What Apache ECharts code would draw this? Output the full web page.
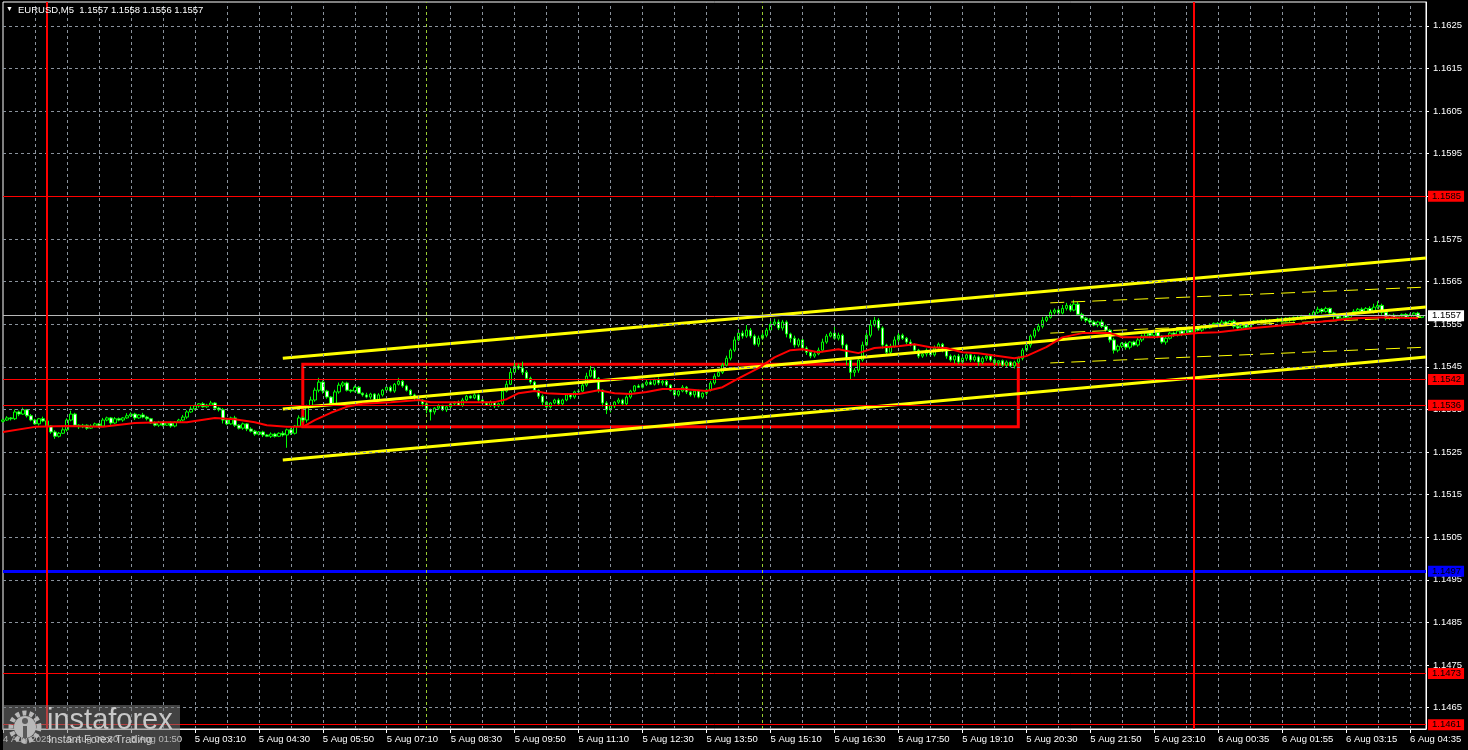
<!DOCTYPE html>
<html><head><meta charset="utf-8">
<script src="https://cdn.jsdelivr.net/npm/echarts@6/dist/echarts.min.js"></script>
<style>html,body{margin:0;padding:0;background:#000;overflow:hidden}#c{width:1468px;height:750px}</style>
</head><body><div id="c"></div>
<script>
// price = BASE + points * PT
const BASE = 1.15, PT = 0.00001;
const open0 = 322;
const closes = [
325,330,328,344,339,349,335,325,316,328,323,311,297,287,294,302,325,339,313,309,
313,306,311,316,311,325,330,318,328,325,330,335,339,330,337,332,328,318,313,320,
313,318,311,320,325,332,344,351,358,363,356,360,365,353,349,325,316,330,313,306,
316,304,299,292,297,290,287,292,287,294,290,302,294,311,330,325,356,372,395,414,
393,379,363,391,407,412,395,393,402,388,384,379,386,372,384,395,402,393,409,416,
405,395,384,377,372,363,349,344,353,358,349,356,363,367,360,372,381,377,384,372,
365,360,367,358,363,393,409,437,451,447,437,423,414,395,381,367,356,365,372,363,
372,384,379,391,393,407,428,442,423,395,365,349,358,367,372,363,379,393,405,402,
409,414,409,419,412,416,407,395,384,393,402,391,384,393,379,388,395,412,428,437,
454,470,489,513,529,522,536,522,503,517,524,536,550,555,541,555,527,517,501,513,
494,484,475,480,489,508,522,529,517,524,501,466,437,442,466,501,524,548,559,541,
501,484,498,513,524,517,508,501,489,475,480,489,478,494,503,489,475,466,475,461,
470,478,466,473,461,470,475,466,459,464,454,461,452,461,470,489,501,522,536,545,
559,566,578,583,576,587,594,583,597,573,564,559,555,548,555,545,536,513,489,498,
505,496,508,501,513,522,529,524,531,522,508,517,529,524,534,527,536,531,541,536,
545,541,548,552,548,555,550,557,545,541,548,543,552,557,555,559,555,559,557,562,
557,564,559,566,562,569,564,571,578,585,580,587,576,569,564,571,566,573,580,585,
580,587,578,590,594,578,564,571,564,569,573,566,571,576,566,570];
const wickHi = [
3,4,2,6,3,5,2,4,3,2,5,3,2,4,3,6,4,8,3,2,
3,2,4,3,2,5,3,2,4,3,2,6,4,3,2,5,3,2,4,3,
2,3,4,2,3,5,4,6,3,2,4,3,5,2,3,4,2,3,5,2,
3,2,4,3,2,3,2,4,3,2,5,3,4,2,6,4,5,8,6,10,
4,3,2,5,6,4,3,2,4,3,2,5,3,2,4,3,6,4,3,8,
4,3,2,3,4,2,5,3,2,4,3,2,3,2,4,5,3,2,4,3,
2,3,4,2,3,6,8,10,12,6,15,5,4,3,2,4,3,2,3,4,
3,2,4,3,5,6,8,10,6,3,2,4,3,2,5,3,4,3,2,4,
3,5,4,3,6,4,3,2,4,3,5,3,2,4,3,2,4,5,6,4,
5,6,4,8,10,6,12,5,4,6,8,5,10,8,6,5,4,3,6,4,
3,4,2,5,6,8,5,4,15,6,4,3,2,5,6,8,10,12,8,5,
4,3,6,8,5,4,3,6,4,3,5,4,3,6,4,3,2,4,3,5,
4,3,2,5,3,4,2,3,4,2,3,4,2,3,4,5,6,4,5,6,
8,5,6,4,5,8,6,4,10,5,4,3,5,4,3,6,4,3,5,4,
3,4,2,3,5,4,3,2,4,3,2,5,3,4,2,3,4,2,3,4,
2,3,4,2,3,5,3,2,4,3,2,3,4,2,3,2,4,3,2,3,
4,2,3,2,4,3,2,5,4,6,3,4,2,3,4,2,3,4,5,3,
4,3,5,8,10,4,3,2,4,3,2,3,4,2,3,1];
const wickLo = [
3,2,4,3,5,2,4,3,2,4,3,5,4,6,3,2,4,3,2,5,
3,4,2,3,5,2,3,4,2,3,4,2,3,5,2,3,4,2,3,4,
3,2,4,3,2,3,4,2,3,4,2,3,2,5,4,8,3,2,4,3,
4,5,3,4,3,5,2,4,3,2,4,30,4,3,2,5,6,3,4,5,
6,4,5,3,4,5,3,4,3,2,4,3,5,3,2,4,5,3,4,3,
4,3,2,5,4,6,8,20,6,4,3,5,4,3,2,4,3,2,3,4,
3,2,4,5,3,4,3,2,5,4,6,3,5,4,6,8,5,4,3,5,
4,3,5,4,3,2,4,3,5,6,8,10,6,5,4,3,5,4,3,2,
3,4,2,3,5,6,4,3,2,4,3,5,4,6,3,4,5,3,4,2,
4,3,5,4,3,6,4,5,3,6,4,5,3,4,5,6,8,10,6,5,
8,6,5,4,3,5,4,3,4,5,8,12,18,10,6,4,3,5,4,6,
8,5,4,3,6,4,5,3,6,5,4,6,5,4,3,5,6,4,8,5,
4,6,5,4,8,5,6,4,5,6,4,5,3,6,4,5,4,6,5,4,
5,4,3,5,4,3,5,4,3,4,6,5,4,3,5,4,3,6,8,5,
4,6,5,3,4,5,3,4,3,5,4,6,3,4,3,5,4,3,4,3,
4,3,2,4,3,2,4,3,5,4,3,2,4,3,2,3,4,3,2,3,
3,2,4,3,2,3,4,2,3,4,5,3,4,8,3,4,2,3,4,3,
3,4,2,3,4,6,5,4,3,4,2,3,4,3,2,2];
// moving average (candle index, points)
const maIdx = [0,8,16,25,33,40,46,53,58,63,66,71,75,78,82,86,90,97,104,107,111,123,126,129,133,136,140,144,149,153,157,161,165,170,176,180,184,189,193,197,200,204,209,214,218,224,228,232,236,240,244,253,256,261,265,270,277,280,288,293,299,304,313,321,329,338,346,354];
const maVal = [297,309,311,309,318,320,320,330,327,320,313,309,309,325,342,356,363,367,372,367,367,367,374,388,393,388,386,386,395,388,386,391,398,398,393,402,423,447,472,489,491,484,491,482,494,498,503,496,494,484,482,470,475,496,519,529,529,519,519,524,529,531,541,548,555,564,566,564];
const xTickLabels = ['4 Aug 2025','5 Aug 00:30','5 Aug 01:50','5 Aug 03:10','5 Aug 04:30','5 Aug 05:50','5 Aug 07:10','5 Aug 08:30','5 Aug 09:50','5 Aug 11:10','5 Aug 12:30','5 Aug 13:50','5 Aug 15:10','5 Aug 16:30','5 Aug 17:50','5 Aug 19:10','5 Aug 20:30','5 Aug 21:50','5 Aug 23:10','6 Aug 00:35','6 Aug 01:55','6 Aug 03:15','6 Aug 04:35'];
const yTicks = [1.1465,1.1475,1.1485,1.1495,1.1505,1.1515,1.1525,1.1535,1.1545,1.1555,1.1565,1.1575,1.1585,1.1595,1.1605,1.1615,1.1625];
const redLevels = [1.1585,1.1542,1.1536,1.1473,1.1461];
const blueLevel = 1.1497;
const currentPrice = 1.1557;
const redVLines = [11,298];
const limeVLines = [106,190];
const rectIdx = [75,254], rectPrice = [1.15456,1.15309];
const channelIdx = [70,356];
const channelUpper = [1.15470,1.15705];
const channelMid = [1.15351,1.15590];
const channelLower = [1.15231,1.15473];
const dashIdx = [262,356];
const dashUpper = [1.15600,1.15637];
const dashMid = [1.15529,1.15567];
const dashLower = [1.15459,1.15496];
const titleText = 'EURUSD,M5  1.1557 1.1558 1.1556 1.1557';

const NCAT = 357;
const cats = []; for (let i = 0; i < NCAT; i++) cats.push(String(i));
const vGrid = []; for (let i = 8; i < NCAT; i += 8) vGrid.push(i);
const px = p => +(BASE + p * PT).toFixed(5);
const candles = closes.map((c, i) => {
  const o = i ? closes[i - 1] : open0;
  const hi = Math.max(o, c) + wickHi[i], lo = Math.min(o, c) - wickLo[i];
  return [px(o), px(c), px(lo), px(hi)];
});
const maData = maIdx.map((x, k) => [x, px(maVal[k])]);
const seg = (idx, vals) => [[idx[0], vals[0]], [idx[1], vals[1]]];
const FONT = 'Liberation Sans';
const gridColor = '#8a929c';

function lvlLabel(bg, fg) {
  return {show: true, position: 'end', distance: 2, formatter: p => (+p.value).toFixed(4),
    backgroundColor: bg, color: fg, fontSize: 9.5, fontFamily: FONT, padding: [1, 3, 0, 4], lineHeight: 10};
}

const chart = echarts.init(document.getElementById('c'), null, {renderer: 'canvas'});
const yellowLine = (data, w, dash, z) => ({type: 'line', data: data, symbol: 'none', silent: true, z: z,
  lineStyle: {color: '#ffff00', width: w, type: dash ? [14, 7] : 'solid'}, animation: false});

chart.setOption({
  backgroundColor: '#000',
  animation: false,
  grid: {left: 2, right: 42, top: 2, bottom: 21, show: true, borderColor: '#ffffff', borderWidth: 1, backgroundColor: '#000'},
  xAxis: {type: 'category', data: cats, boundaryGap: false,
    axisLine: {lineStyle: {color: '#fff', width: 1}},
    axisTick: {show: true, interval: i => i % 16 === 0, length: 4, lineStyle: {color: '#fff'}},
    axisLabel: {interval: i => i % 16 === 0, formatter: (v, i) => xTickLabels[Math.round(i / 16)] || '',
      color: '#fff', fontSize: 9.5, fontFamily: FONT, align: 'left', margin: 5},
    splitLine: {show: false}
  },
  yAxis: {type: 'value', position: 'right', min: 1.146, max: 1.16306, scale: true,
    axisLine: {show: true, lineStyle: {color: '#fff'}},
    axisTick: {show: true, customValues: yTicks, length: 3, lineStyle: {color: '#fff'}},
    axisLabel: {customValues: yTicks, color: '#fff', fontSize: 9.5, fontFamily: FONT, margin: 7, formatter: v => v.toFixed(4)},
    splitLine: {show: false}
  },
  series: [
    {type: 'line', data: [], z: 1, silent: true,
      markLine: {symbol: 'none', silent: true, precision: 6, label: {show: false},
        lineStyle: {color: gridColor, type: [3, 3], width: 1},
        data: [...yTicks.map(v => ({yAxis: v})), ...vGrid.map(x => ({xAxis: x}))]}},
    {type: 'line', data: [], z: 2, silent: true,
      markLine: {symbol: 'none', silent: true, precision: 6,
        data: [
          ...redLevels.map(v => ({yAxis: v, lineStyle: {color: '#ff0000', width: 1, type: 'solid'}, label: lvlLabel('#ff0000', '#000')})),
          {yAxis: blueLevel, lineStyle: {color: '#0000ff', width: 3, type: 'solid'}, label: lvlLabel('#0000ff', '#000')},
          {yAxis: currentPrice, lineStyle: {color: '#b8b8b8', width: 1, type: 'solid'}, label: lvlLabel('#ffffff', '#000')},
          ...redVLines.map(x => ({xAxis: x, lineStyle: {color: '#ff0000', width: 2, type: 'solid'}, label: {show: false}})),
          ...limeVLines.map(x => ({xAxis: x, lineStyle: {color: '#9acd32', width: 1, type: [3, 3]}, label: {show: false}}))
        ]},
      markArea: {silent: true, itemStyle: {color: 'rgba(0,0,0,0)', borderColor: '#ff0000', borderWidth: 3},
        data: [[{xAxis: rectIdx[0], yAxis: rectPrice[0]}, {xAxis: rectIdx[1], yAxis: rectPrice[1]}]]}},
    {type: 'candlestick', data: candles, z: 3, barWidth: 3, silent: true,
      itemStyle: {color: '#000000', color0: '#ffffff', borderColor: '#00ff00', borderColor0: '#00ff00', borderWidth: 1}},
    yellowLine(seg(channelIdx, channelUpper), 3, false, 4),
    yellowLine(seg(channelIdx, channelMid), 3, false, 4),
    yellowLine(seg(channelIdx, channelLower), 3, false, 4),
    yellowLine(seg(dashIdx, dashUpper), 1, true, 4),
    yellowLine(seg(dashIdx, dashMid), 1, true, 4),
    yellowLine(seg(dashIdx, dashLower), 1, true, 4),
    {type: 'line', data: maData, symbol: 'none', silent: true, z: 5, lineStyle: {color: '#ff0000', width: 2}}
  ],
  graphic: [
    {type: 'text', left: 6, top: 6, z: 50, style: {text: '▼', fill: '#fff', font: '7px ' + FONT}},
    {type: 'text', left: 18, top: 5, z: 50, style: {text: titleText, fill: '#fff', font: '9.5px ' + FONT}},
    {type: 'rect', shape: {x: 3, y: 705, width: 177, height: 45}, z: 100, style: {fill: 'rgba(120,120,120,0.55)'}},
    {type: 'circle', shape: {cx: 25, cy: 727, r: 14}, z: 101, style: {fill: 'none', stroke: '#b8b8b8', lineWidth: 5, lineDash: [4, 3]}},
    {type: 'circle', shape: {cx: 25, cy: 727, r: 11}, z: 101, style: {fill: '#b8b8b8'}},
    {type: 'circle', shape: {cx: 25, cy: 721, r: 3}, z: 102, style: {fill: '#5a5a5a'}},
    {type: 'rect', shape: {x: 23, y: 726, width: 4, height: 12}, z: 102, style: {fill: '#5a5a5a'}},
    {type: 'text', left: 47, top: 706, z: 101, style: {text: 'instaforex', fill: '#c8c8c8', font: '29px ' + FONT}},
    {type: 'text', left: 48, top: 734, z: 101, style: {text: 'Instant Forex Trading', fill: '#d0d0d0', font: '11px ' + FONT}}
  ]
});
</script>
</body></html>
